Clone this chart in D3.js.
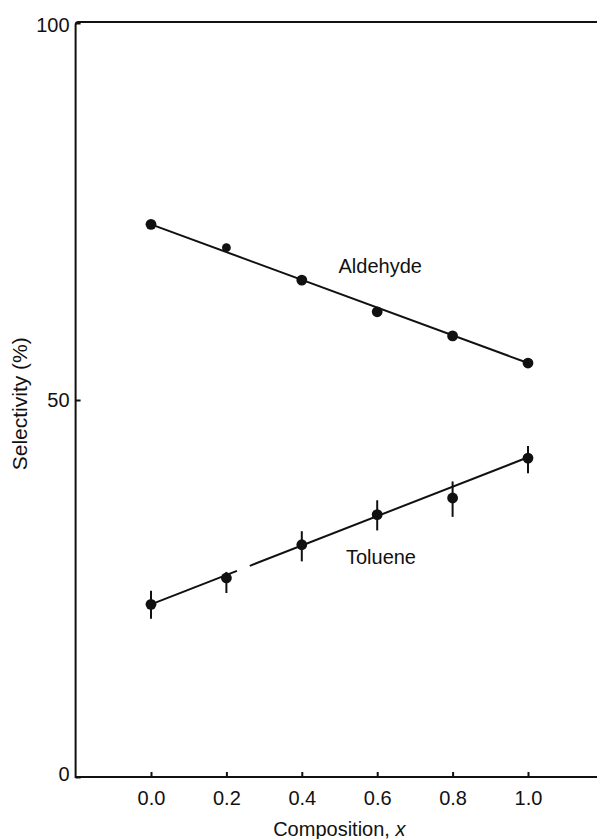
<!DOCTYPE html>
<html>
<head>
<meta charset="utf-8">
<script src="https://cdn.jsdelivr.net/npm/d3@7"></script>
<style>
  body { margin: 0; background: #fff; }
  text { font-family: "Liberation Sans", Arial, sans-serif; fill: #111; }
</style>
</head>
<body>
<script>
//data
var compositions = [0.0, 0.2, 0.4, 0.6, 0.8, 1.0];
var aldehyde = [73.3, 70.2, 65.9, 61.7, 58.5, 54.9];
var toluene = [22.9, 26.4, 30.8, 34.8, 37.0, 42.3];
var tolueneHi = [24.7, 27.2, 32.6, 36.7, 39.2, 43.9];
var tolueneLo = [21.0, 24.4, 28.6, 32.7, 34.5, 40.3];
//fitted straight lines (value at x = 0 and x = 1)
var aldehydeFit = [73.3, 54.9];
var tolueneFit = [22.9, 42.4];
//the printed toluene line has a small break after x = 0.2
var tolueneBreak = [0.228, 0.262];
var xTicks = [0.0, 0.2, 0.4, 0.6, 0.8, 1.0];
var yTicks = [0, 50, 100];

//properties of the screen
var widthScr = 597;
var heightScr = 839;

var svg = d3.select("body").append("svg")
    .attr("width", widthScr)
    .attr("height", heightScr);

var x = d3.scaleLinear().domain([0, 1]).range([151, 528]);
var y = d3.scaleLinear().domain([0, 100]).range([777, 23]);
var xMin = -0.2;

//frame: left, top and bottom lines run to the page edge
var left = x(xMin);
svg.append("path")
    .attr("d", "M" + widthScr + "," + (y(100) - 1) + " H" + (left + 3) +
        " Q" + left + "," + (y(100) - 1) + " " + left + "," + (y(100) + 2) +
        " V" + y(0) + " H" + widthScr)
    .attr("fill", "none")
    .attr("stroke", "#111")
    .attr("stroke-width", 2);

//x axis: ticks pointing in
var xAxis = svg.append("g")
    .attr("transform", "translate(0," + y(0) + ")")
    .call(d3.axisBottom(x).tickValues(xTicks).tickFormat(d3.format(".1f"))
        .tickSizeInner(-5).tickSizeOuter(0).tickPadding(14));
xAxis.select(".domain").remove();
xAxis.selectAll("line").attr("stroke", "#111").attr("stroke-width", 2);
xAxis.selectAll("text").attr("font-size", 20).attr("font-family", null);

//y axis
var yAxis = svg.append("g")
    .attr("transform", "translate(" + left + ",0)")
    .call(d3.axisLeft(y).tickValues(yTicks).tickFormat(d3.format("d"))
        .tickSizeInner(-5).tickSizeOuter(0).tickPadding(6));
yAxis.select(".domain").remove();
yAxis.selectAll("line").attr("stroke", "#111").attr("stroke-width", 2);
yAxis.selectAll("text").attr("font-size", 20).attr("font-family", null)
    .attr("dy", function(d) { return d === 50 ? "0.32em" : (d === 0 ? "0.15em" : "0.4em"); });

//axis titles
svg.append("text")
    .attr("x", (x(xMin) + widthScr) / 2 + 3)
    .attr("y", 836)
    .attr("text-anchor", "middle")
    .attr("font-size", 20)
    .html('Composition, <tspan font-style="italic">x</tspan>');

svg.append("text")
    .attr("transform", "translate(27," + y(49.5) + ") rotate(-90)")
    .attr("text-anchor", "middle")
    .attr("font-size", 21)
    .text("Selectivity (%)");

var line = d3.line().x(function(d) { return x(d[0]); }).y(function(d) { return y(d[1]); });
function fitAt(fit, t) { return fit[0] + (fit[1] - fit[0]) * t; }

//aldehyde fit line
svg.append("path")
    .attr("d", line([[0, aldehydeFit[0]], [1, aldehydeFit[1]]]))
    .attr("stroke", "#111").attr("stroke-width", 2).attr("fill", "none");

//toluene fit line, in two pieces
var tolSegments = [[0, tolueneBreak[0]], [tolueneBreak[1], 1]];
svg.selectAll(".tolfit").data(tolSegments).enter().append("path")
    .attr("class", "tolfit")
    .attr("d", function(s) { return line([[s[0], fitAt(tolueneFit, s[0])], [s[1], fitAt(tolueneFit, s[1])]]); })
    .attr("stroke", "#111").attr("stroke-width", 2).attr("fill", "none");

//toluene error bars
svg.selectAll(".err").data(compositions).enter().append("line")
    .attr("class", "err")
    .attr("x1", function(d) { return x(d); })
    .attr("x2", function(d) { return x(d); })
    .attr("y1", function(d, i) { return y(tolueneHi[i]); })
    .attr("y2", function(d, i) { return y(tolueneLo[i]); })
    .attr("stroke", "#111").attr("stroke-width", 2);

//points (the 0.2 aldehyde dot is printed a bit smaller)
svg.selectAll(".ald").data(compositions).enter().append("circle")
    .attr("class", "ald")
    .attr("cx", function(d) { return x(d); })
    .attr("cy", function(d, i) { return y(aldehyde[i]); })
    .attr("r", function(d, i) { return i === 1 ? 4.4 : 5.4; })
    .attr("fill", "#111");

svg.selectAll(".tol").data(compositions).enter().append("circle")
    .attr("class", "tol")
    .attr("cx", function(d) { return x(d); })
    .attr("cy", function(d, i) { return y(toluene[i]); })
    .attr("r", 5.4)
    .attr("fill", "#111");

//series labels
svg.append("text")
    .attr("x", x(0.608)).attr("y", y(66.8))
    .attr("text-anchor", "middle").attr("font-size", 20)
    .text("Aldehyde");

svg.append("text")
    .attr("x", x(0.61)).attr("y", y(28.3))
    .attr("text-anchor", "middle").attr("font-size", 20)
    .text("Toluene");
</script>
</body>
</html>
